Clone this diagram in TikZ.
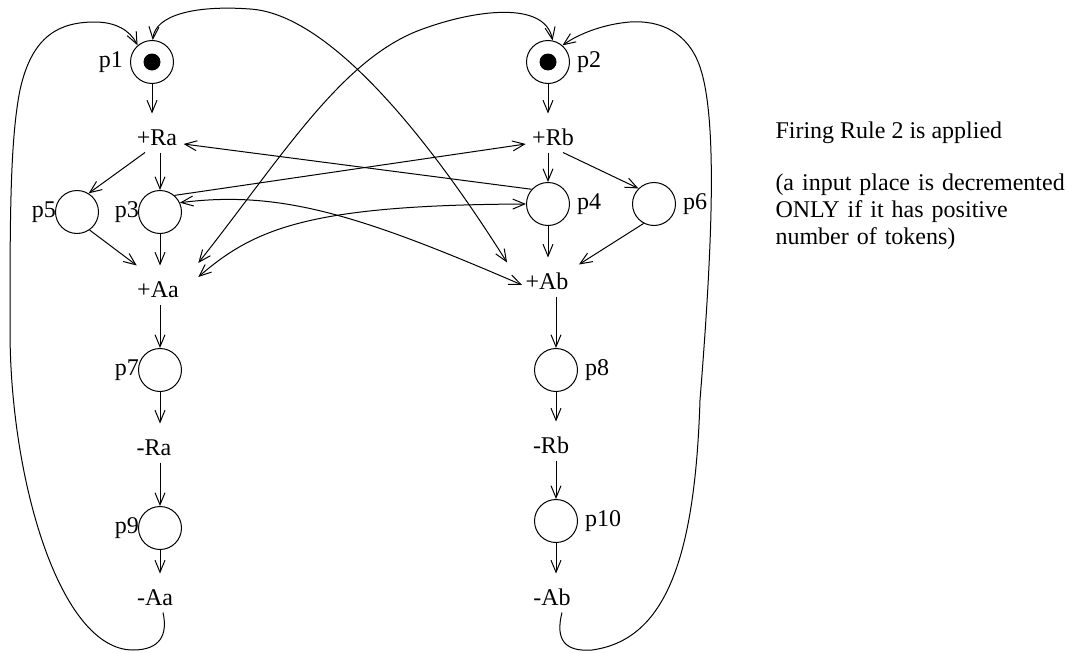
\documentclass[tikz,border=0pt]{standalone}
\usepackage{fontspec}
\setmainfont{Liberation Serif}
\usetikzlibrary{arrows.meta}
\tikzset{
  place/.style={circle,draw,minimum size=21.5pt,inner sep=0pt},
  trans/.style={anchor=base,inner xsep=3pt,inner ysep=3.5pt,text height=12pt,text depth=0pt},
  arc/.style={-{Straight Barb[length=6pt,width=5pt]}},
  twoway/.style={{Straight Barb[length=6pt,width=5pt]}-{Straight Barb[length=6pt,width=5pt]}},
}

\begin{document}
\begin{tikzpicture}[x=0.5pt,y=-0.5pt,line width=0.5pt,
    every node/.style={font=\fontsize{12}{13.5}\selectfont}]
  \useasboundingbox (0,0) rectangle (1066,653);
  % places: number/x/y/label side/label distance
  \foreach \n/\x/\y/\s/\d in {1/152/62/left/0pt, 2/548/62/right/0pt, 3/160/212/left/-4pt,
      4/548/204/right/0pt, 5/77/212/left/-4pt, 6/654/204/right/0pt, 7/160/370/left/-4pt,
      8/556/370/right/0pt, 9/160/528/left/-4pt, 10/556/521/right/0pt}
    \node[place,label={[label distance=\d]\s:p\n}] (p\n) at (\x,\y) {};
  \foreach \n in {1,2} \fill (p\n) circle (4.25pt); % tokens
  % transitions, placed at their baseline
  \foreach \nm/\txt/\x/\y in {accRa/+Ra/157/145, accRb/+Rb/553/145, accAa/+Aa/158/297,
      accAb/+Ab/547/289, relRa/-Ra/154/455, relRb/-Rb/551/453, relAa/-Aa/155/605, relAb/-Ab/552/605}
    \node[trans] (\nm) at (\x,\y) {\txt};

  % straight down the two columns
  \foreach \a/\b in {p1/accRa, p3/accAa, p7/relRa, p9/relAa, p2/accRb, p4/accAb, p8/relRb, p10/relAb}
    \draw[arc] (\a) -- (\a |- \b.north);
  \foreach \a/\b in {accRa/p3, accAa/p7, relRa/p9, accRb/p4, accAb/p8, relRb/p10}
    \draw[arc] (\a.south -| \b) -- (\b);

  \draw[arc] ([xshift=-6pt]accRa.south) -- (p5.58);
  \draw[arc] (p5.-55) -- ([xshift=3pt]accAa.north west);
  \draw[arc] ([xshift=5pt]accRb.south) -- (p6.135);
  \draw[arc] (p6.-118) -- ([xshift=2pt,yshift=-3.5pt]accAb.north east);
  \draw[arc] (p4.138) -- ([yshift=-5.5pt]accRa.east);
  \draw[arc] (p3.49) -- ([yshift=-5.5pt]accRb.west);

  % arcs between the two sides
  \draw[twoway] (p1.88) .. controls (155,15) and (195,5) .. (250,9)
    .. controls (330,14) and (430,140) .. ([xshift=-6pt,yshift=-2.5pt]accAb.north west);
  \draw[twoway] ([xshift=6.5pt,yshift=11pt]accAa.east) .. controls (280,160) and (340,60) .. (420,30)
    .. controls (473,10) and (545,0) .. (p2.78);
  \draw[twoway] (p3.25) .. controls (280,190) and (360,215) .. ([xshift=1.5pt,yshift=-4pt]accAb.west);
  \draw[twoway] ([xshift=6.5pt,yshift=4pt]accAa.east) .. controls (255,228) and (310,205) .. (p4.west);

  % loops back to p1 and p2
  \draw[arc] ([xshift=4pt]relAa.south) .. controls (168,635) and (160,650) .. (133,650)
    .. controls (60,650) and (10,480) .. (10,330)
    .. controls (10,220) and (10,140) .. (20,90)
    .. controls (32,35) and (60,22) .. (95,22)
    .. controls (115,22) and (130,30) .. (p1.131);
  \draw[arc] ([xshift=5pt]relAb.south) .. controls (555,640) and (565,652) .. (592,650)
    .. controls (665,640) and (695,560) .. (700,400)
    .. controls (712,250) and (718,120) .. (700,67)
    .. controls (688,32) and (660,20) .. (630,22)
    .. controls (605,24) and (580,33) .. (p2.49);

  \node[anchor=base west,inner sep=0pt] (rule) at (775,138) {Firing Rule 2 is applied};
  \node[anchor=base west,inner sep=0pt,text width=150pt,align=left] (cond) at (775,190)
    {(a input place is decremented\\ONLY if it has positive\\number of tokens)};
\end{tikzpicture}
\end{document}
